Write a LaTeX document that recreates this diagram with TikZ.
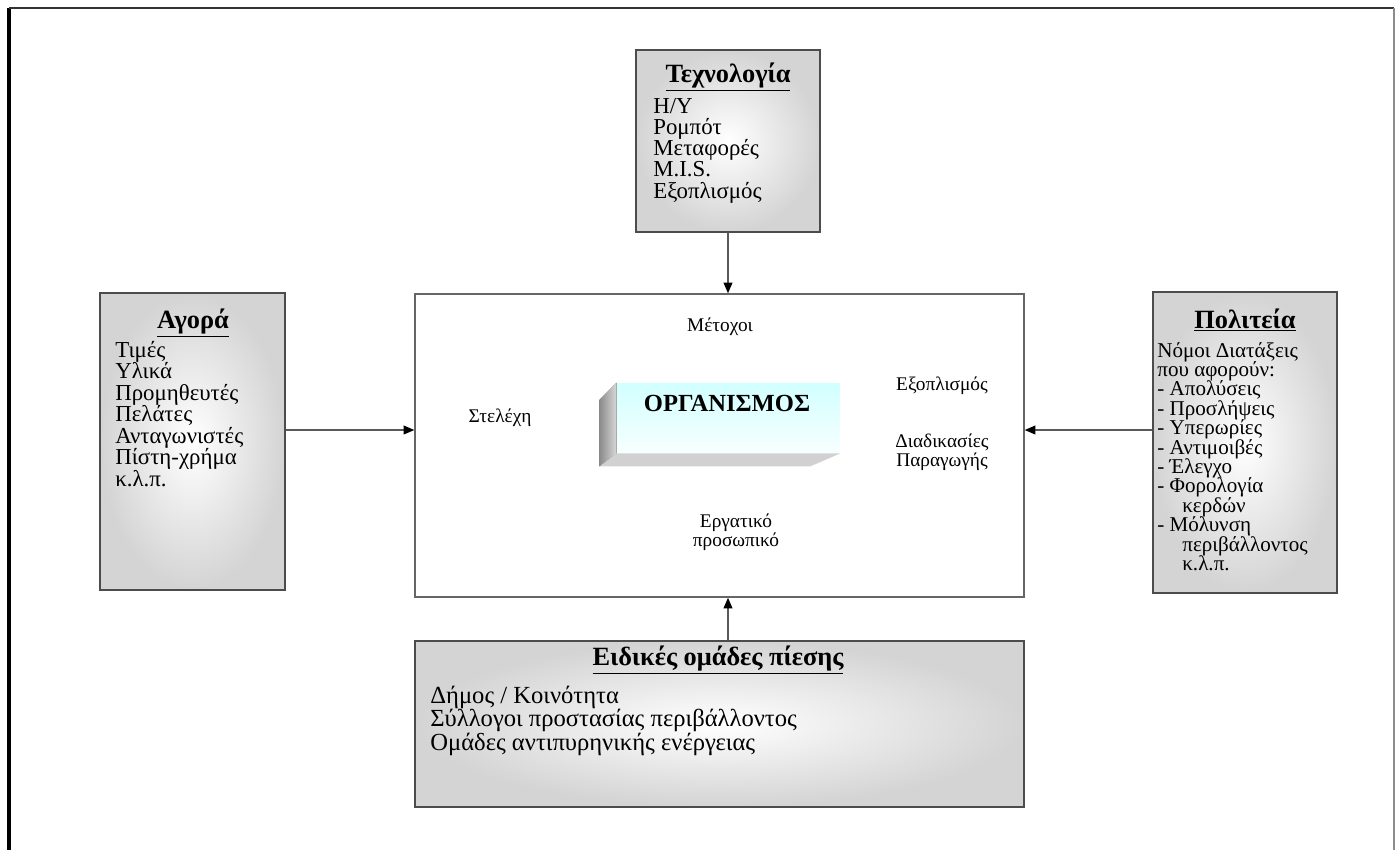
\documentclass[tikz,border=0pt]{standalone}
\usepackage{fontspec}
\setmainfont{Liberation Serif}
\usetikzlibrary{arrows.meta,calc}

\tikzset{
  panel/.style={draw=black!70, line width=0.9pt, inner color=white, outer color=black!17, minimum width=3.68cm, inner sep=0pt},
  paneltitle/.style={font=\fontsize{15}{15}\selectfont\bfseries, anchor=base, inner sep=0pt},
  entry/.style={font=\fontsize{13}{13}\selectfont, anchor=base west, inner sep=0pt},
  smallentry/.style={font=\fontsize{12}{12}\selectfont, anchor=base west, inner sep=0pt},
  inlabel/.style={font=\fontsize{11}{11}\selectfont, align=center, inner sep=0pt},
  link/.style={black!65, line width=0.7pt, -{Triangle[length=6pt,width=5pt,color=black]}},
}

\begin{document}
\begin{tikzpicture}[x=0.02cm, y=-0.02cm]
  \useasboundingbox (0,0) rectangle (1399,850);

  \draw[line width=2.4pt] (9,850) -- (9,8);
  \draw[black!80, line width=1.4pt] (9,8) -- (1394,8);
  \draw[black!45, line width=1.6pt] (1394,8) -- (1394,850);

  \node[draw=black!60, fill=white, line width=0.9pt, minimum width=12.18cm, minimum height=6.06cm] (main) at (719.5,445.5) {};

  \node[top color=cyan!18, bottom color=cyan!3, minimum width=4.46cm, minimum height=1.4cm] (org) at (728.5,418) {};
  \fill[left color=black!45, right color=black!15] (org.north west) -- ($(org.north west)+(-17,17)$) -- ($(org.south west)+(-17,13)$) -- (org.south west) -- cycle;
  \fill[black!18] (org.south west) -- (org.south east) -- ($(org.south east)+(-30,13)$) -- ($(org.south west)+(-17,13)$) -- cycle;
  \node[font=\fontsize{14}{14}\selectfont\bfseries, anchor=base] (orgname) at (727,411) {ΟΡΓΑΝΙΣΜΟΣ};

  \node[inlabel] (shareholders) at (720,327) {Μέτοχοι};
  \node[inlabel] (executives) at (500,418) {Στελέχη};
  \node[inlabel] (equipment) at (942,386) {Εξοπλισμός};
  \node[inlabel] (processes) at (942,452) {Διαδικασίες\\Παραγωγής};
  \node[inlabel] (workers) at (736,532) {Εργατικό\\προσωπικό};

  \node[panel, minimum height=3.64cm] (tech) at (728,141) {};
  \node[paneltitle] (techtitle) at (728,82) {\underline{Τεχνολογία}};
  \foreach \txt [count=\i from 0] in {Η/Υ,Ρομπότ,Μεταφορές,M.I.S.,Εξοπλισμός}
    \node[entry] (tech-\i) at (653,113+21.3*\i) {\txt};

  \node[panel, minimum width=3.7cm, minimum height=5.94cm] (agora) at (192.5,441.5) {};
  \node[paneltitle] (agoratitle) at (193,328) {\underline{Αγορά}};
  \foreach \txt [count=\i from 0] in {Τιμές,Υλικά,Προμηθευτές,Πελάτες,Ανταγωνιστές,Πίστη-χρήμα,κ.λ.π.}
    \node[entry] (agora-\i) at (115,357+21.5*\i) {\txt};

  \node[panel, minimum height=6.02cm] (politeia) at (1245,442.5) {};
  \node[paneltitle] (politeiatitle) at (1245,328) {\underline{Πολιτεία}};
  \foreach \txt [count=\i from 0] in {Νόμοι Διατάξεις,που αφορούν:,- Απολύσεις,- Προσλήψεις,- Υπερωρίες,- Αντιμοιβές,- Έλεγχο,- Φορολογία,\hspace*{0.5cm}κερδών,- Μόλυνση,\hspace*{0.5cm}περιβάλλοντος,\hspace*{0.5cm}κ.λ.π.}
    \node[smallentry] (politeia-\i) at (1157,357+19.4*\i) {\txt};

  \node[panel, minimum width=12.18cm, minimum height=3.32cm] (pressure) at (719.5,724) {};
  \node[paneltitle] (pressuretitle) at (718,665) {\underline{Ειδικές ομάδες πίεσης}};
  \foreach \txt [count=\i from 0] in {Δήμος / Κοινότητα,Σύλλογοι προστασίας περιβάλλοντος,Ομάδες αντιπυρηνικής ενέργειας}
    \node[entry, font=\fontsize{14}{14}\selectfont] (pressure-\i) at (430,703+23.5*\i) {\txt};

  \draw[link] (tech.south) -- (tech.south |- main.north);
  \draw[link] ([yshift=0.23cm]agora.east) -- ([yshift=0.23cm]agora.east -| main.west);
  \draw[link] ([yshift=0.25cm]politeia.west) -- ([yshift=0.25cm]politeia.west -| main.east);
  \draw[link] ([xshift=0.17cm]pressure.north) -- ([xshift=0.17cm]pressure.north |- main.south);

\end{tikzpicture}
\end{document}
